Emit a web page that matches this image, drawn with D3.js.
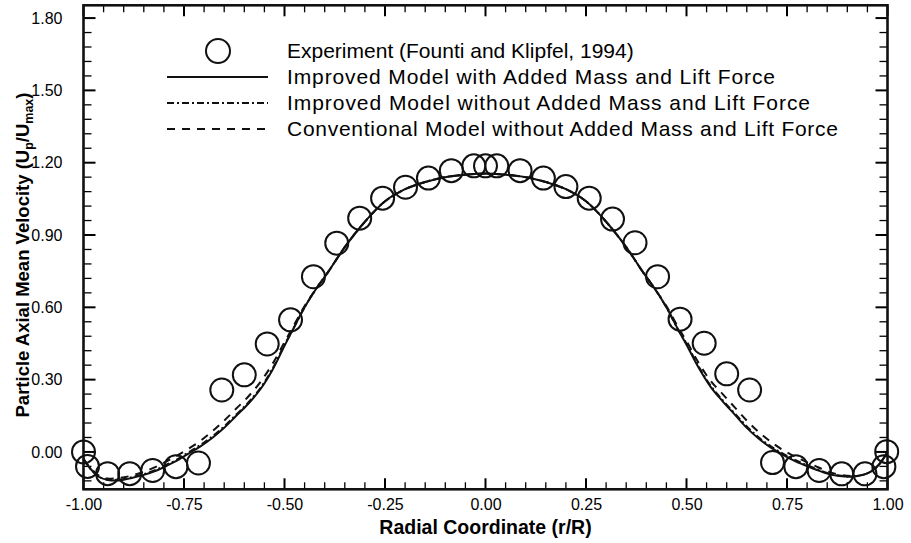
<!DOCTYPE html>
<html><head><meta charset="utf-8">
<script src="https://cdn.jsdelivr.net/npm/d3@7"></script>
<style>
body{margin:0;background:#fff;}
text{font-family:"Liberation Sans",Arial,Helvetica,sans-serif;fill:#000;}
</style></head>
<body><svg id="chart" width="911" height="543"></svg>
<script>
// Experimental data (Founti and Klipfel, 1994)
const expX = [-1.00,-0.99,-0.94,-0.885,-0.828,-0.77,-0.714,-0.656,-0.60,-0.543,-0.485,-0.428,-0.37,-0.313,-0.256,-0.199,-0.142,-0.085,-0.029,0.00,0.028,0.086,0.144,0.20,0.258,0.316,0.372,0.428,0.484,0.544,0.60,0.657,0.714,0.772,0.830,0.886,0.944,0.991,0.998];
const expY = [0.00,-0.06,-0.09,-0.09,-0.077,-0.061,-0.046,0.257,0.32,0.448,0.548,0.727,0.866,0.970,1.053,1.098,1.136,1.167,1.187,1.187,1.187,1.167,1.136,1.101,1.053,0.966,0.868,0.727,0.551,0.451,0.324,0.257,-0.044,-0.061,-0.077,-0.091,-0.091,-0.061,0.001];

// Model curves
const modelX = [-1.00,-0.98,-0.96,-0.94,-0.91,-0.88,-0.85,-0.82,-0.79,-0.77,-0.74,-0.71,-0.68,-0.65,-0.62,-0.59,-0.56,-0.53,-0.50,-0.48,-0.45,-0.42,-0.39,-0.35,-0.30,-0.25,-0.20,-0.15,-0.10,-0.05,0.00,0.05,0.10,0.15,0.20,0.25,0.30,0.35,0.39,0.42,0.45,0.48,0.50,0.53,0.56,0.59,0.62,0.65,0.68,0.71,0.74,0.77,0.79,0.82,0.85,0.88,0.91,0.94,0.96,0.98,1.00];
const improvedLift = [-0.03,-0.075,-0.105,-0.116,-0.118,-0.108,-0.095,-0.078,-0.055,-0.038,-0.008,0.022,0.058,0.10,0.15,0.20,0.26,0.34,0.44,0.505,0.60,0.68,0.75,0.85,0.955,1.04,1.09,1.12,1.14,1.15,1.155,1.15,1.14,1.12,1.09,1.04,0.955,0.85,0.75,0.68,0.60,0.505,0.445,0.35,0.27,0.21,0.155,0.10,0.055,0.018,-0.012,-0.038,-0.052,-0.072,-0.09,-0.10,-0.103,-0.095,-0.08,-0.05,0.00];
const improvedNoLift = [-0.03,-0.075,-0.104,-0.114,-0.115,-0.105,-0.092,-0.074,-0.05,-0.034,-0.003,0.028,0.064,0.106,0.155,0.205,0.265,0.345,0.445,0.505,0.60,0.68,0.75,0.85,0.955,1.04,1.09,1.12,1.14,1.15,1.155,1.15,1.14,1.12,1.09,1.04,0.955,0.85,0.75,0.68,0.60,0.505,0.45,0.355,0.275,0.215,0.16,0.106,0.06,0.023,-0.007,-0.033,-0.048,-0.068,-0.087,-0.098,-0.102,-0.094,-0.08,-0.05,0.00];
const conventional = [-0.03,-0.072,-0.10,-0.11,-0.108,-0.098,-0.082,-0.062,-0.036,-0.018,0.012,0.045,0.085,0.13,0.18,0.23,0.29,0.365,0.455,0.515,0.605,0.68,0.75,0.85,0.955,1.04,1.09,1.12,1.14,1.15,1.155,1.15,1.14,1.12,1.09,1.04,0.955,0.85,0.75,0.68,0.605,0.515,0.46,0.37,0.295,0.24,0.185,0.13,0.082,0.042,0.008,-0.02,-0.035,-0.058,-0.08,-0.094,-0.1,-0.094,-0.08,-0.05,0.00];

const xTicks = [-1.00,-0.75,-0.50,-0.25,0.00,0.25,0.50,0.75,1.00];
const yTicks = [0.00,0.30,0.60,0.90,1.20,1.50,1.80];
const legendLabels = ["Experiment (Founti and Klipfel, 1994)","Improved Model with Added Mass and Lift Force","Improved Model without Added Mass and Lift Force","Conventional Model without Added Mass and Lift Force"];

const svg = d3.select("#chart");
const L=83.5, R=887.5, T=5.3, B=489.3;
const x = d3.scaleLinear().domain([-1,1]).range([L,R]);
const y = d3.scaleLinear().domain([-0.155,1.853]).range([B,T]);
const fmt = v => d3.format(".2f")(v).replace("\u2212","-");

// minor + major ticks (inward) on all four sides
const xMinor = d3.range(-1,1.0001,0.05);
const yMinor = d3.range(-0.12,1.8501,0.06);
const tickG = svg.append("g").attr("stroke","#000").attr("stroke-width",1.3);
function isMajorX(v){return Math.abs(v/0.25-Math.round(v/0.25))<1e-6;}
function isMajorY(v){return Math.abs(v/0.3-Math.round(v/0.3))<1e-6;}
xMinor.forEach(v=>{
  const len = isMajorX(v)?11:7, w = isMajorX(v)?2:1.3;
  tickG.append("line").attr("x1",x(v)).attr("x2",x(v)).attr("y1",B).attr("y2",B-len).attr("stroke-width",w);
  tickG.append("line").attr("x1",x(v)).attr("x2",x(v)).attr("y1",T).attr("y2",T+len).attr("stroke-width",w);
});
yMinor.forEach(v=>{
  const len = isMajorY(v)?12:8, w = isMajorY(v)?2:1.3;
  tickG.append("line").attr("y1",y(v)).attr("y2",y(v)).attr("x1",L).attr("x2",L+len).attr("stroke-width",w);
  tickG.append("line").attr("y1",y(v)).attr("y2",y(v)).attr("x1",R).attr("x2",R-len).attr("stroke-width",w);
});

// axes labels via d3 axes (no tick lines)
const xAxis = d3.axisBottom(x).tickValues(xTicks).tickFormat(fmt).tickSize(0).tickPadding(9);
const gx = svg.append("g").attr("transform",`translate(0,${B})`).call(xAxis);
gx.select(".domain").remove();
gx.selectAll("text").style("font-size","16px").style("font-family","Liberation Sans, Arial, sans-serif").attr("fill","#000");
const yAxis = d3.axisLeft(y).tickValues(yTicks).tickFormat(fmt).tickSize(0).tickPadding(21);
const gy = svg.append("g").attr("transform",`translate(${L},0)`).call(yAxis);
gy.select(".domain").remove();
gy.selectAll("text").style("font-size","16px").style("font-family","Liberation Sans, Arial, sans-serif").attr("fill","#000");

// frame
svg.append("rect").attr("x",L).attr("y",T).attr("width",R-L).attr("height",B-T)
  .attr("fill","none").attr("stroke","#111").attr("stroke-width",2.6);

// curves
const line = d3.line().x((d,i)=>x(modelX[i])).y(d=>y(d)).curve(d3.curveCatmullRom.alpha(0.5));
const styles = [
  {data:improvedLift, dash:null},
  {data:improvedNoLift, dash:"7,3,2,3"},
  {data:conventional, dash:"8,7"}
];
const cg = svg.append("g").attr("fill","none").attr("stroke","#111").attr("stroke-width",2);
styles.forEach(s=>{
  const p = cg.append("path").attr("d",line(s.data));
  if(s.dash) p.attr("stroke-dasharray",s.dash);
});

// experiment circles
svg.append("g").selectAll("circle").data(expX).join("circle")
  .attr("cx",d=>x(d)).attr("cy",(d,i)=>y(expY[i])).attr("r",11.5)
  .attr("fill","none").attr("stroke","#111").attr("stroke-width",2);

// legend
const lg = svg.append("g");
const rows = [51,77,103,129];
const rowLen = [null,488,523,551];
lg.append("circle").attr("cx",218).attr("cy",rows[0]).attr("r",12).attr("fill","none").attr("stroke","#111").attr("stroke-width",2);
[null,null,"7,3,2,3","8,7"].forEach((dash,i)=>{
  if(i===0) return;
  const l = lg.append("line").attr("x1",167).attr("x2",268).attr("y1",rows[i]).attr("y2",rows[i]).attr("stroke","#111").attr("stroke-width",2);
  if(dash) l.attr("stroke-dasharray",dash);
});
legendLabels.forEach((t,i)=>{
  const tx = lg.append("text").attr("x",287).attr("y",rows[i]).attr("dy","0.35em").style("font-size","21px").text(t);
  if(rowLen[i]) tx.attr("textLength",rowLen[i]).attr("lengthAdjust","spacing");
});

// axis titles
svg.append("text").attr("x",(L+R)/2).attr("y",534).attr("text-anchor","middle")
  .style("font-size","19.5px").style("font-weight","bold").text("Radial Coordinate (r/R)");
const yt = svg.append("text").attr("transform",`translate(29,255) rotate(-90)`).attr("text-anchor","middle")
  .style("font-size","18.5px").style("font-weight","bold");
yt.append("tspan").text("Particle Axial Mean Velocity (U");
yt.append("tspan").attr("dy",4).style("font-size","12.5px").text("p");
yt.append("tspan").attr("dy",-4).text("/U");
yt.append("tspan").attr("dy",4).style("font-size","12.5px").text("max");
yt.append("tspan").attr("dy",-4).text(")");
</script></body></html>
